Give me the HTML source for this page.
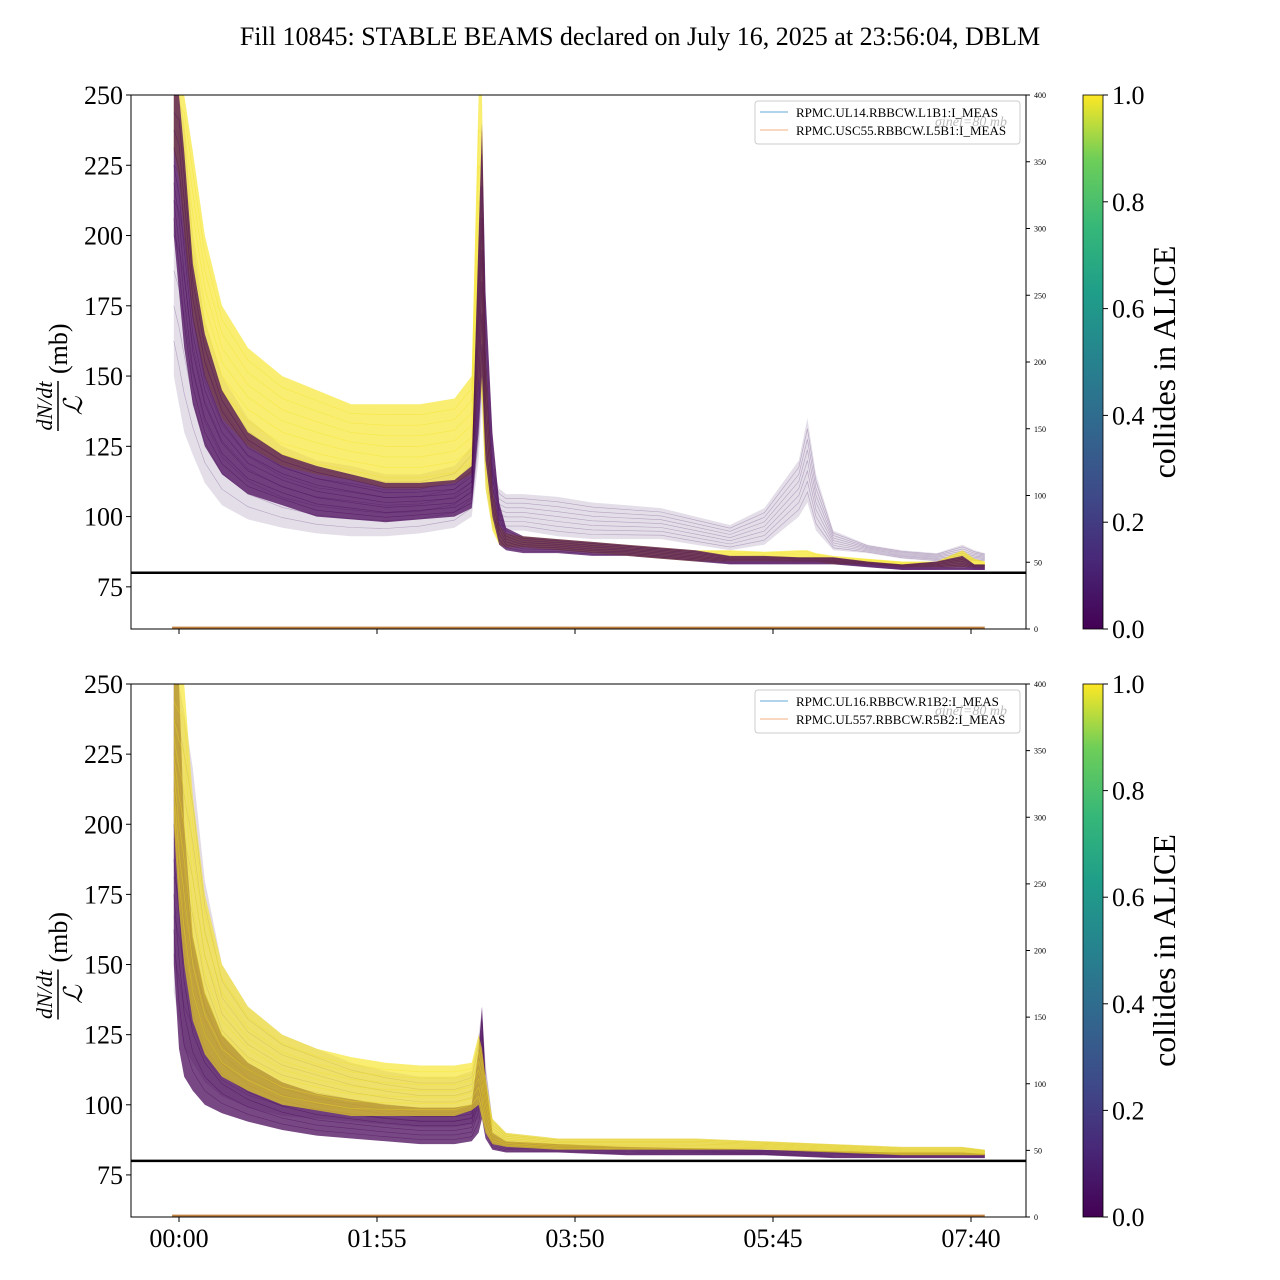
<!DOCTYPE html>
<html><head><meta charset="utf-8">
<style>
body{margin:0;background:#fff;}
svg{display:block;font-family:"Liberation Serif",serif;}
</style></head>
<body>
<svg id="chart" width="1280" height="1280" viewBox="0 0 1280 1280" xmlns="http://www.w3.org/2000/svg">
<defs>
<linearGradient id="viridis" x1="0" y1="1" x2="0" y2="0">
<stop offset="0" stop-color="#440154"/><stop offset="0.13" stop-color="#482878"/><stop offset="0.25" stop-color="#3e4a89"/><stop offset="0.38" stop-color="#31688e"/><stop offset="0.5" stop-color="#26828e"/><stop offset="0.63" stop-color="#1f9e89"/><stop offset="0.75" stop-color="#35b779"/><stop offset="0.88" stop-color="#6ece58"/><stop offset="1" stop-color="#fde725"/>
</linearGradient>
</defs>
<text x="640" y="45" font-size="26" text-anchor="middle">Fill 10845: STABLE BEAMS declared on July 16, 2025 at 23:56:04, DBLM</text>
<g id="p0"></g>
<g id="p1"></g>
</svg>
<script>
// ---- data (minutes since 00:00, values in mb) ----
const xTickLabels = ["00:00","01:55","03:50","05:45","07:40"];
const xTickMinutes = [0,115,230,345,460];
const yTickValues = [75,100,125,150,175,200,225,250];
const rightTickValues = [0,50,100,150,200,250,300,350,400];
const cbarTicks = ["0.0","0.2","0.4","0.6","0.8","1.0"];
const refLevel = 80;

const topTimes = [-3,0,3,8,15,25,40,60,80,100,120,140,160,170,174,176,178,182,186,190,200,220,240,260,280,300,320,340,360,365,370,380,400,420,440,455,462,468];
const topFaintLow  = [150,140,130,122,112,104,99,96,94,93,93,94,96,100,120,140,110,96,95,95,95,93,92,92,92,90,88,90,100,105,95,88,87,85,84,84,84,84];
const topFaintHigh = [250,250,240,200,170,150,135,125,120,118,115,115,118,125,180,220,160,118,110,108,108,107,105,104,103,100,97,103,120,135,115,95,90,88,87,90,88,87];
const topYellowLow  = [230,220,200,170,150,135,125,118,115,113,110,110,112,115,150,140,110,95,90,89,89,88,87,86,85,84,84,84,84,84,84,83,83,82,82,82,82,82];
const topYellowHigh = [250,250,250,230,200,175,160,150,145,140,140,140,142,150,250,250,160,110,97,94,93,92,91,90,89,88,88,87.5,88,88,87,86,85,84,84,88,85,84];
const topPurpleLow  = [200,180,160,140,125,115,108,104,100,99,98,99,100,103,130,150,120,100,90,88,87,87,86,86,85,84,83,83,83,83,83,83,82,81,81,81,81,81];
const topPurpleHigh = [250,250,230,190,165,145,130,122,118,115,112,112,113,118,200,240,180,130,105,96,93,92,91,90,89,88,86,86,85.5,85.5,85.5,85.5,84,83,84,86,83,83];

const botTimes = [-3,0,3,8,15,25,40,60,80,100,120,140,160,170,174,176,178,182,190,220,260,300,340,380,420,455,468];
const botFaintLow  = [140,130,120,115,108,103,99,96,95,94,93,92,92,93,95,100,92,86,85,84,84,84,84,83,82,82,82];
const botFaintHigh = [250,250,240,220,180,150,135,125,120,115,112,110,110,112,125,135,115,95,90,88,88,88,87,86,85,85,84];
const botYellowLow  = [200,170,150,130,118,110,105,100,98,96,96,96,96,98,100,95,90,86,85,84,84,84,84,83,82,82,82];
const botYellowHigh = [250,250,250,210,175,150,135,125,120,117,115,114,114,115,125,120,110,95,90,88,88,88,87,86,85,85,84];
const botPurpleLow  = [150,120,110,105,100,97,94,91,89,88,87,86,86,87,90,95,88,84,83,83,82,82,82,81,81,81,81];
const botPurpleHigh = [250,250,200,160,140,125,115,108,104,102,100,99,99,100,120,135,110,90,87,86,85,84.5,84,83.5,83,83,82.5];

const panels = [
 {top:95, bottom:629, times:topTimes, bands:[[topFaintLow,topFaintHigh,"#7a5a8f",0.2],[topYellowLow,topYellowHigh,"#f5e31a",0.62],[topPurpleLow,topPurpleHigh,"#440154",0.72]],
  legend:["RPMC.UL14.RBBCW.L1B1:I_MEAS","RPMC.USC55.RBBCW.L5B1:I_MEAS"], showX:false},
 {top:684, bottom:1217, times:botTimes, bands:[[botFaintLow,botFaintHigh,"#7a5a8f",0.22],[botPurpleLow,botPurpleHigh,"#440154",0.72],[botYellowLow,botYellowHigh,"#f5e31a",0.62]],
  legend:["RPMC.UL16.RBBCW.R1B2:I_MEAS","RPMC.UL557.RBBCW.R5B2:I_MEAS"], showX:true}
];
const NS="http://www.w3.org/2000/svg";
const L=131,R=1026;
const xs = t => 179 + t*198/115;
function mk(tag,attrs,parent,txt){const e=document.createElementNS(NS,tag);for(const k in attrs)e.setAttribute(k,attrs[k]);if(txt!==undefined)e.textContent=txt;parent.appendChild(e);return e;}

panels.forEach((p,pi)=>{
  const g=document.getElementById('p'+pi);
  const ys = v => p.bottom - (v-60)*(p.bottom-p.top)/190;
  const yr = v => p.bottom - v*(p.bottom-p.top)/400;
  const clipId='clip'+pi;
  const cp=mk('clipPath',{id:clipId},g); mk('rect',{x:L,y:p.top,width:R-L,height:p.bottom-p.top},cp);
  const dg=mk('g',{'clip-path':'url(#'+clipId+')'},g);
  
  
  p.bands.forEach((b,bi)=>{
    const [lo,hi,col,op]=b;
    let d='M'+p.times.map((t,i)=>xs(t).toFixed(1)+','+ys(hi[i]).toFixed(1)).join('L');
    for(let i=p.times.length-1;i>=0;i--) d+='L'+xs(p.times[i]).toFixed(1)+','+ys(lo[i]).toFixed(1);
    const band=mk('path',{d:d+'Z',fill:col,'fill-opacity':op},dg);
    
    
    for(let k=1;k<8;k++){const f=k/8;
      const ld='M'+p.times.map((t,i)=>xs(t).toFixed(1)+','+ys(lo[i]+(hi[i]-lo[i])*f).toFixed(1)).join('L');
      const ln=mk('path',{d:ld,fill:'none',stroke:col,'stroke-width':0.6,'stroke-opacity':0.45},dg);
      
      
    }
  });
  const ol=mk('line',{x1:xs(-4),x2:xs(468),y1:yr(1),y2:yr(1),stroke:'#c08040','stroke-width':2},dg);
  
  
  const ref=mk('line',{x1:L,x2:R,y1:ys(refLevel),y2:ys(refLevel),stroke:'#000','stroke-width':2.5},g);
  
  
  const fr=mk('rect',{x:L,y:p.top,width:R-L,height:p.bottom-p.top,fill:'none',stroke:'#000','stroke-width':1},g);
  
  
  yTickValues.forEach(v=>{
    mk('line',{x1:L-5,x2:L,y1:ys(v),y2:ys(v),stroke:'#000'},g);
    const t=mk('text',{x:L-8,y:ys(v)+9,'font-size':26,'text-anchor':'end'},g,String(v));
    
    
  });
  rightTickValues.forEach(v=>{
    mk('line',{x1:R,x2:R+4,y1:yr(v),y2:yr(v),stroke:'#000'},g);
    const t=mk('text',{x:R+8,y:yr(v)+3,'font-size':8},g,String(v));
    
    
  });
  xTickMinutes.forEach((m,i)=>{
    mk('line',{x1:xs(m),x2:xs(m),y1:p.bottom,y2:p.bottom+5,stroke:'#000'},g);
    if(p.showX){const t=mk('text',{x:xs(m),y:p.bottom+30,'font-size':26,'text-anchor':'middle'},g,xTickLabels[i]);
      
      }
  });
  const cy=(p.top+p.bottom)/2;
  const yl=mk('g',{transform:`translate(62,${cy}) rotate(-90)`},g);
  
  
  mk('text',{x:-44,y:-10,'font-size':22,'font-style':'italic','text-anchor':'middle'},yl,'dN/dt');
  mk('line',{x1:-69,x2:-19,y1:-4,y2:-4,stroke:'#000','stroke-width':1.5},yl);
  mk('text',{x:-44,y:20,'font-size':26,'font-style':'italic','text-anchor':'middle'},yl,'ℒ');
  mk('text',{x:-12,y:5,'font-size':26},yl,'(mb)');
  const lg=mk('g',{},g);
  
  
  mk('rect',{x:755,y:p.top+6,width:265,height:43,rx:3,fill:'#fff','fill-opacity':0.85,stroke:'#ccc'},lg);
  mk('line',{x1:760,x2:788,y1:p.top+17,y2:p.top+17,stroke:'#5fa8d8'},lg);
  mk('line',{x1:760,x2:788,y1:p.top+35,y2:p.top+35,stroke:'#f0b080'},lg);
  mk('text',{x:796,y:p.top+22,'font-size':13},lg,p.legend[0]);
  mk('text',{x:796,y:p.top+40,'font-size':13},lg,p.legend[1]);
  mk('text',{x:935,y:p.top+31,'font-size':14,fill:'#bbb','font-style':'italic'},lg,'σinel=80 mb');
  const cb=mk('g',{},g);
  
  
  mk('rect',{x:1083,y:p.top,width:20,height:p.bottom-p.top,fill:'url(#viridis)',stroke:'#000','stroke-width':0.8},cb);
  cbarTicks.forEach((s,i)=>{const y=p.bottom-i*(p.bottom-p.top)/5;
    mk('line',{x1:1103,x2:1108,y1:y,y2:y,stroke:'#000'},cb);
    mk('text',{x:1112,y:y+9,'font-size':26},cb,s);});
  const ct=mk('text',{x:0,y:0,'font-size':32,'text-anchor':'middle',transform:`translate(1175,${cy}) rotate(-90)`},cb,'collides in ALICE');
  
  
});
</script>
</body></html>
